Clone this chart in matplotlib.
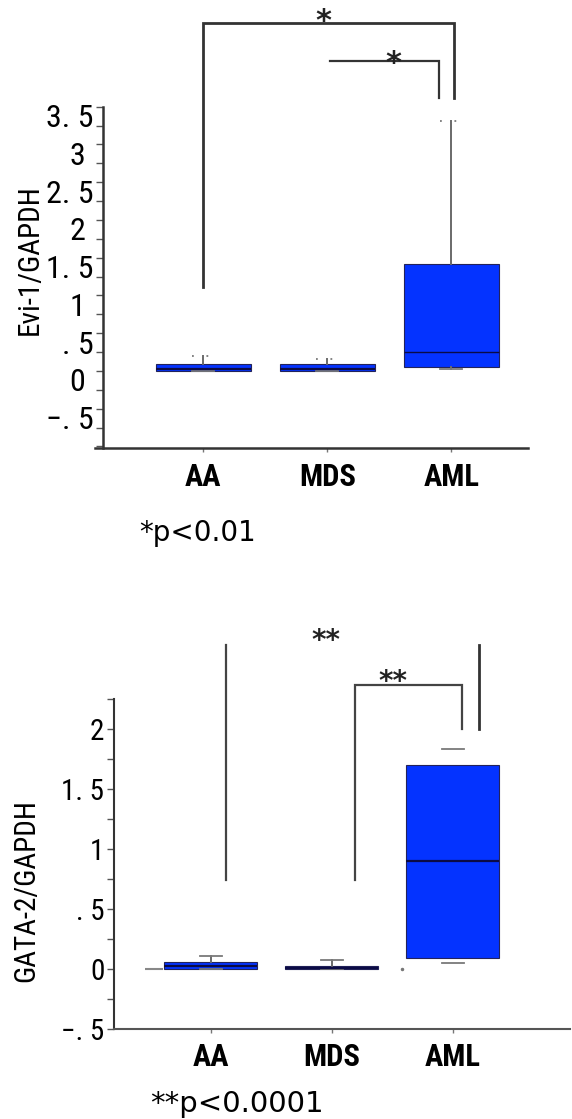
import matplotlib
matplotlib.use("Agg")
import matplotlib.pyplot as plt
from matplotlib import font_manager as fm
from matplotlib.ticker import MultipleLocator
from matplotlib.transforms import ScaledTranslation

# ---------------- data ----------------
categories = ["AA", "MDS", "AML"]

evi_whislo = [0.0, 0.0, 0.026]
evi_q1 = [0.0, 0.0, 0.057]
evi_med = [0.02, 0.02, 0.256]
evi_q3 = [0.09, 0.09, 1.413]
evi_whishi = [0.20, 0.155, 3.31]

gata_whislo = [0.0, 0.0, 0.056]
gata_q1 = [0.0, 0.0, 0.094]
gata_med = [0.028, 0.01, 0.90]
gata_q3 = [0.06, 0.028, 1.70]
gata_whishi = [0.11, 0.08, 1.84]

gata_extra_x = [0.535, 2.58]
gata_extra_y = [0.0, 0.005]

evi_ticks = [-0.5, 0, 0.5, 1, 1.5, 2, 2.5, 3, 3.5]
evi_ticklabels = ["−. 5", "0 ", ". 5", "1 ", "1. 5", "2 ", "2. 5", "3 ", "3. 5"]
gata_ticks = [-0.5, 0, 0.5, 1, 1.5, 2]
gata_ticklabels = ["−. 5", "0", ". 5", "1", "1. 5", "2"]

evi_ylabel = "Evi-1/GAPDH"
gata_ylabel = "GATA-2/GAPDH"
evi_sig = "*"
gata_sig = "**"
evi_note = "*p<0.01"
gata_note = "**p<0.0001"

# ---------------- style ----------------
names = {f.name for f in fm.fontManager.ttflist}
NARROW = next((n for n in ["Liberation Sans Narrow", "DejaVu Sans Condensed",
                           "Roboto Condensed", "Open Sans Condensed"] if n in names),
              "DejaVu Sans")
BLUE = "#0433FF"

W, H = 572, 1119
fig = plt.figure(figsize=(W / 100, H / 100), dpi=100)


def fx(x):
    return x / W


def fy(y):
    return 1 - y / H


def stats(lo, q1, med, q3, hi):
    return [dict(whislo=a, q1=b, med=c, q3=d, whishi=e, fliers=[])
            for a, b, c, d, e in zip(lo, q1, med, q3, hi)]


def draw_box(ax, st, width, medlw):
    return ax.bxp(st, positions=[1, 2, 3], widths=width, patch_artist=True,
                  showfliers=False, capwidths=0.18,
                  boxprops=dict(facecolor=BLUE, edgecolor="#23235a", linewidth=0.8),
                  medianprops=dict(color="#0b0b45", linewidth=medlw),
                  whiskerprops=dict(color="#6a6a6a", linewidth=1.4),
                  capprops=dict(color="#7a7a7a", linewidth=1.3))


def style_axes(ax, ticks, ticklabels, ysize, xpad):
    for s in ["top", "right"]:
        ax.spines[s].set_visible(False)
    for s in ["left", "bottom"]:
        ax.spines[s].set_color("#333333")
        ax.spines[s].set_linewidth(1.8)
    ax.set_yticks(ticks)
    ax.set_yticklabels(ticklabels)
    ax.yaxis.set_minor_locator(MultipleLocator(0.25))
    ax.tick_params(axis="y", which="both", direction="out", length=5, width=1,
                   color="#555555", labelsize=ysize, pad=2)
    ax.set_xticks([1, 2, 3])
    ax.set_xticklabels(categories)
    ax.tick_params(axis="x", direction="out", length=3, width=1, color="#777777",
                   labelsize=22, pad=xpad)
    for lbl in ax.get_yticklabels():
        lbl.set_fontfamily(NARROW)
    for lbl in ax.get_xticklabels():
        lbl.set_fontfamily(NARROW)
        lbl.set_fontweight("bold")


def star(ax, x, y, s, size):
    ax.annotate(s, xy=(x, y), xytext=(0, -11), textcoords="offset points",
                ha="center", va="baseline", fontsize=size, fontweight="bold",
                color="#222222", annotation_clip=False)


# ---------------- top panel: Evi-1 ----------------
ax1 = fig.add_axes([fx(95), fy(447.7), (527.7 - 95) / W, (447.7 - 106.7) / H])
bp1 = draw_box(ax1, stats(evi_whislo, evi_q1, evi_med, evi_q3, evi_whishi), 0.77, 1.6)
for i in range(3):
    bp1["caps"][2 * i + 1].set_linestyle((0, (1, 7)))
bp1["medians"][2].set_linewidth(1.0)
ax1.set_xlim(0.127, 3.616)
ax1.set_ylim(-1.016, 3.5)
ax1.spines["left"].set_position(("data", 0.194))
style_axes(ax1, evi_ticks, evi_ticklabels, 23, 7)
off = ScaledTranslation(0, -0.09, fig.dpi_scale_trans)
for lbl in ax1.get_yticklabels():
    lbl.set_transform(lbl.get_transform() + off)

# significance brackets
ax1.plot([1.0, 1.0, 3.02, 3.02], [1.11, 4.605, 4.605, 3.61], color="#333333",
         lw=2.0, clip_on=False, solid_joinstyle="miter")
ax1.plot([2.02, 2.90, 2.90], [4.106, 4.106, 3.61], color="#333333",
         lw=1.6, clip_on=False, solid_joinstyle="miter")
star(ax1, 1.97, 4.715, evi_sig, 22)
star(ax1, 2.53, 4.16, evi_sig, 22)

fig.text(fx(30), fy(260), evi_ylabel, rotation=90, ha="center", va="center",
         fontfamily=NARROW, fontsize=21)
fig.text(fx(139), fy(533), evi_note, ha="left", va="center", fontsize=20)

# ---------------- bottom panel: GATA-2 ----------------
ax2 = fig.add_axes([fx(114), fy(1029.3), (570 - 114) / W, (1029.3 - 699.3) / H])
bp2 = draw_box(ax2, stats(gata_whislo, gata_q1, gata_med, gata_q3, gata_whishi), 0.77, 1.6)
bp2["whiskers"][4].set_visible(False)
bp2["whiskers"][5].set_visible(False)
ax2.plot(gata_extra_x[:1], gata_extra_y[:1], marker="_", ms=13, mew=1.5,
         color="#888888", ls="none")
ax2.plot(gata_extra_x[1:], gata_extra_y[1:], marker=".", ms=3,
         color="#777777", ls="none")
ax2.set_xlim(0.201, 3.969)
ax2.set_ylim(-0.5, 2.25)
style_axes(ax2, gata_ticks, gata_ticklabels, 21, 6)
ax2.spines["left"].set_linewidth(1.5)
ax2.spines["bottom"].set_linewidth(1.5)
ax2.spines["bottom"].set_color("#555555")

ax2.plot([1.124, 1.124], [0.747, 2.705], color="#444444", lw=1.6, clip_on=False)
ax2.plot([3.217, 3.217], [2.0, 2.705], color="#333333", lw=2.0, clip_on=False)
ax2.plot([2.193, 2.193, 3.079, 3.079], [0.747, 2.367, 2.367, 2.0],
         color="#444444", lw=1.6, clip_on=False, solid_joinstyle="miter")
star(ax2, 1.953, 2.80, gata_sig, 20)
star(ax2, 2.504, 2.456, gata_sig, 20)

fig.text(fx(26), fy(891), gata_ylabel, rotation=90, ha="center", va="center",
         fontfamily=NARROW, fontsize=21)
fig.text(fx(150), fy(1104), gata_note, ha="left", va="center", fontsize=21)

fig.savefig("out.png", dpi=100)
